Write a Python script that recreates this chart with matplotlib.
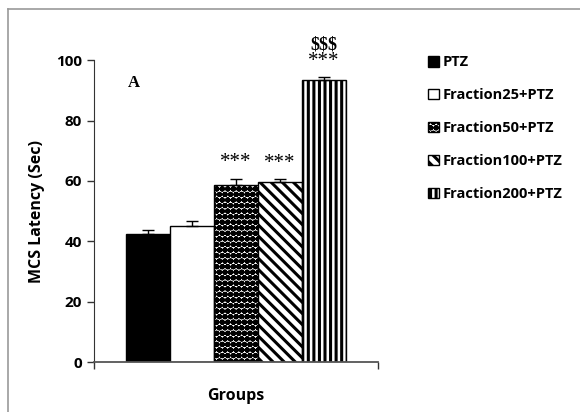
import matplotlib.pyplot as plt
from matplotlib.lines import Line2D

# datos
groups = ['PTZ', 'Fraction25+PTZ', 'Fraction50+PTZ', 'Fraction100+PTZ', 'Fraction200+PTZ']
latency = [42.5, 45.0, 58.5, 59.5, 93.5]
sem = [1.3, 1.8, 2.3, 1.2, 0.8]
stars = ['', '', '***', '***', '***']
dollars = ['', '', '', '', '$$$']

plt.rcParams['hatch.linewidth'] = 2.2
plt.rcParams['font.family'] = ['Open Sans', 'DejaVu Sans']

fig = plt.figure(figsize=(5.8, 4.12), dpi=100)
ax = fig.add_axes([0.162, 0.121, 0.49, 0.733])

# borde gris del marco
fig.add_artist(Line2D([8/580, 8/580], [0, 1 - 9/412], color='#999999', lw=1.2))
fig.add_artist(Line2D([8/580, 1], [1 - 9/412, 1 - 9/412], color='#999999', lw=1.2))

colors = ['black', 'white', 'white', 'white', 'white']
hatches = [None, None, 'ooo', '\\\\\\', '|||']
width = 0.155
xs = [-2 * width, -width, 0, width, 2 * width]

for i in range(len(groups)):
    ax.bar(xs[i], latency[i], width=width, color=colors[i], edgecolor='black',
           hatch=hatches[i], linewidth=1, label=groups[i], zorder=2)

ax.errorbar(xs, latency, yerr=[[0] * 5, sem], fmt='none', ecolor='black',
            elinewidth=1, capsize=4, capthick=1, zorder=3)

for i in range(len(groups)):
    if stars[i]:
        ax.text(xs[i], latency[i] + sem[i] + 2.0, stars[i], ha='center', va='bottom',
                fontsize=15, family='Liberation Serif')
    if dollars[i]:
        ax.text(xs[i], latency[i] + sem[i] + 8.0, dollars[i], ha='center', va='bottom',
                fontsize=13, fontweight='bold', family='Liberation Serif')

ax.text(-0.38, 91, 'A', fontsize=12, fontweight='bold', family='Liberation Serif')

ax.set_xlim(-0.5, 0.5)
ax.set_ylim(0, 100)
ax.set_yticks([0, 20, 40, 60, 80, 100])
ax.set_xticks([-0.5, 0.5])
ax.set_xticklabels(['', ''])
ax.tick_params(axis='y', labelsize=11, width=1, length=5, colors='#333333', labelcolor='black')
ax.tick_params(axis='x', width=1, length=5, colors='#333333')
for t in ax.get_yticklabels():
    t.set_fontweight('bold')
ax.spines['top'].set_visible(False)
ax.spines['right'].set_visible(False)
ax.spines['left'].set_color('#333333')
ax.spines['bottom'].set_color('#555555')
ax.spines['bottom'].set_linewidth(1.3)

ax.set_ylabel('MCS Latency (Sec)', fontsize=11.5, fontweight='bold', labelpad=8)
ax.set_xlabel('Groups', fontsize=11.5, fontweight='bold', labelpad=10)

fig.legend(loc='upper left', bbox_to_anchor=(0.728, 0.88), frameon=False,
           prop={'size': 10.5, 'weight': 'bold'}, handlelength=0.75, handleheight=0.75,
           handletextpad=0.25, labelspacing=1.3, borderaxespad=0)

fig.savefig('out.png', dpi=100)
